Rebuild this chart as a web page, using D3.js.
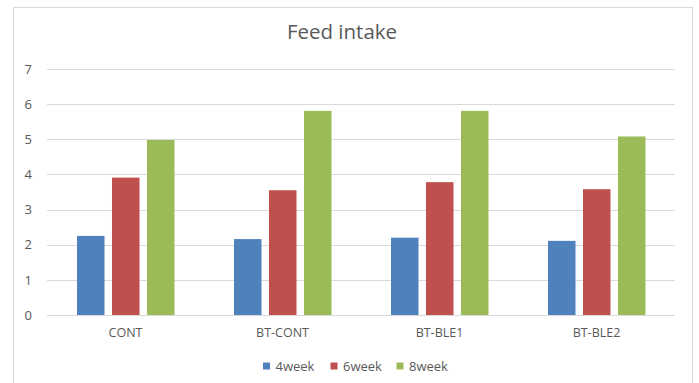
<!DOCTYPE html>
<html>
<head>
<meta charset="utf-8">
<script src="https://cdn.jsdelivr.net/npm/d3@7"></script>
<style>
  html, body { margin: 0; padding: 0; background: #fff; }
  svg { display: block; font-family: "Open Sans", "Noto Sans", sans-serif; }
</style>
</head>
<body>
<svg id="chart" width="699" height="383"></svg>
<script>
// Feed intake by treatment group, measured at three ages
const categories = ["CONT", "BT-CONT", "BT-BLE1", "BT-BLE2"];
const seriesNames = ["4week", "6week", "8week"];
const week4 = [2.25, 2.16, 2.20, 2.11];
const week6 = [3.91, 3.55, 3.78, 3.58];
const week8 = [4.98, 5.81, 5.81, 5.08];
const yTicks = [0, 1, 2, 3, 4, 5, 6, 7];
const colors = ["#4f81bd", "#c0504d", "#9bbb59"];

const seriesValues = [week4, week6, week8];
const rows = categories.map((c, i) => ({
  category: c,
  values: seriesNames.map((s, j) => ({ series: s, value: seriesValues[j][i] }))
}));

const svg = d3.select("#chart");
const plot = { left: 47, right: 675, top: 69, bottom: 315 };

// chart area frame
svg.append("rect")
  .attr("x", 13.5).attr("y", 7.5)
  .attr("width", 679).attr("height", 390)
  .attr("fill", "#fff").attr("stroke", "#d9d9d9").attr("stroke-width", 1);

// title
svg.append("text")
  .attr("x", 342).attr("y", 38.5)
  .attr("text-anchor", "middle")
  .attr("font-size", 20.5)
  .attr("fill", "#595959")
  .text("Feed intake");

const x = d3.scaleBand().domain(categories).range([plot.left, plot.right]).padding(0);
const xInner = d3.scaleBand().domain(seriesNames)
  .range([30, 127.5]).paddingInner(0.214).paddingOuter(0);
const y = d3.scaleLinear().domain([0, 7]).range([plot.bottom, plot.top]);

// horizontal gridlines
svg.append("g")
  .selectAll("line")
  .data(yTicks)
  .join("line")
  .attr("x1", plot.left).attr("x2", plot.right)
  .attr("y1", d => Math.round(y(d)) + 0.5)
  .attr("y2", d => Math.round(y(d)) + 0.5)
  .attr("stroke", "#d9d9d9").attr("stroke-width", 1);

// y axis labels
const yAxis = d3.axisLeft(y).tickValues(yTicks).tickSize(0).tickPadding(0).tickFormat(d3.format("d"));
const yg = svg.append("g").attr("transform", `translate(${plot.left - 15},0)`).call(yAxis);
yg.select(".domain").remove();
yg.selectAll("text").attr("font-size", 13).attr("fill", "#595959")
  .attr("font-family", "\"Open Sans\", sans-serif");

// bars
const groups = svg.append("g")
  .selectAll("g")
  .data(rows)
  .join("g")
  .attr("transform", d => `translate(${x(d.category)},0)`);

groups.selectAll("rect")
  .data(d => d.values)
  .join("rect")
  .attr("x", d => xInner(d.series))
  .attr("width", xInner.bandwidth())
  .attr("y", d => y(d.value))
  .attr("height", d => y(0) - y(d.value))
  .attr("fill", (d, i) => colors[i]);

// x axis labels
const xAxis = d3.axisBottom(x).tickSize(0).tickPadding(0);
const xg = svg.append("g").attr("transform", `translate(0,${plot.bottom + 13.5})`).call(xAxis);
xg.select(".domain").remove();
xg.selectAll("text").attr("font-size", 12.5).attr("fill", "#595959")
  .attr("font-family", "\"Open Sans\", sans-serif");

// legend
const legendX = [263, 330.5, 396.5];
const legend = svg.append("g")
  .selectAll("g")
  .data(seriesNames)
  .join("g")
  .attr("transform", (d, i) => `translate(${legendX[i]},366)`);
legend.append("rect")
  .attr("x", 0).attr("y", -3.5)
  .attr("width", 7).attr("height", 7)
  .attr("fill", (d, i) => colors[i]);
legend.append("text")
  .attr("x", 12.5).attr("y", 0)
  .attr("dy", "0.35em")
  .attr("font-size", 13)
  .attr("fill", "#595959")
  .text(d => d);
</script>
</body>
</html>
